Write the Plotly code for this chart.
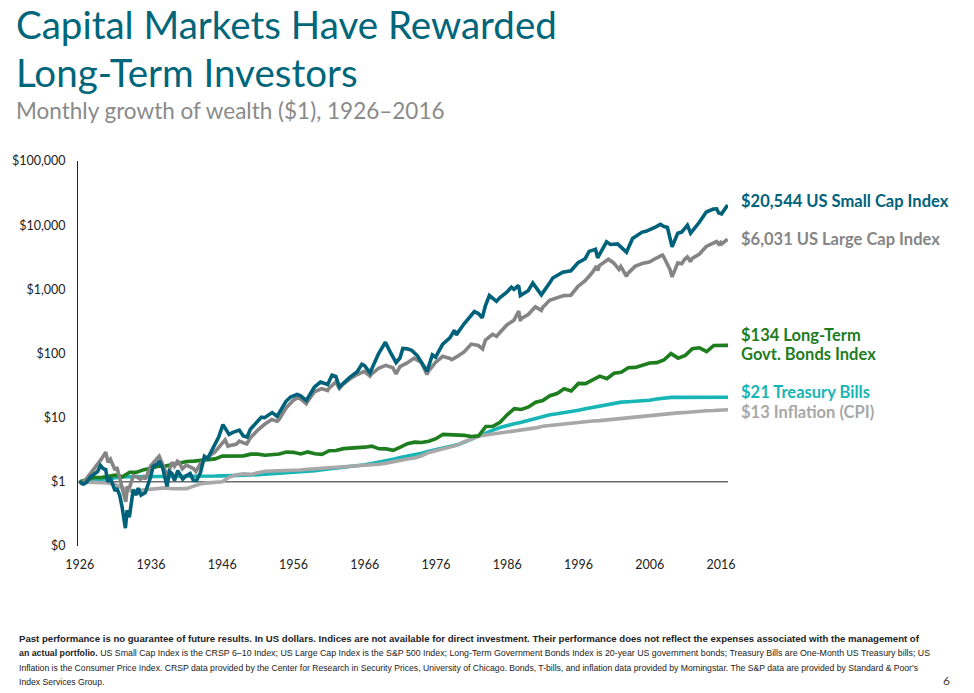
import plotly.graph_objects as go

# ---------------- DATA ----------------
# US Small Cap Index (CRSP 6-10), growth of $1 (decimal year, value)
SMALL_T = [1926.0, 1926.5, 1926.95, 1927.5, 1927.95, 1928.5, 1928.9, 1929.3, 1929.65, 1929.9,
           1930.3, 1930.95, 1931.2, 1931.6, 1931.95, 1932.4, 1932.65, 1932.95, 1933.5, 1933.95,
           1934.2, 1934.6, 1935.2, 1935.95, 1936.3, 1936.95, 1937.15, 1937.6, 1938.25, 1938.6,
           1938.95, 1939.3, 1939.75, 1940.45, 1940.95, 1941.5, 1941.95, 1942.4, 1942.95, 1943.5,
           1943.95, 1944.5, 1944.95, 1945.5, 1946.1, 1946.5, 1946.95, 1947.5, 1948.4, 1948.95,
           1949.5, 1949.95, 1950.95, 1951.5, 1951.95, 1952.5, 1953.0, 1953.7, 1954.5, 1954.95,
           1955.6, 1955.95, 1956.5, 1956.95, 1957.8, 1958.95, 1959.8, 1960.8, 1961.4, 1961.95,
           1962.45, 1962.95, 1963.95, 1964.95, 1965.6, 1965.95, 1966.75, 1967.95, 1968.9, 1969.5,
           1970.4, 1970.95, 1971.35, 1971.95, 1972.6, 1973.4, 1974.75, 1975.5, 1975.95, 1976.95,
           1977.95, 1978.6, 1978.85, 1979.95, 1980.95, 1981.4, 1981.95, 1982.5, 1982.95, 1983.5,
           1984.5, 1984.95, 1985.95, 1986.6, 1986.95, 1987.6, 1987.85, 1988.95, 1989.6, 1990.8,
           1991.95, 1992.4, 1993.8, 1994.95, 1995.95, 1996.95, 1997.5, 1998.4, 1998.7, 1999.95,
           2000.5, 2001.5, 2002.75, 2003.6, 2004.95, 2005.5, 2006.95, 2007.5, 2007.95, 2008.5,
           2009.15, 2009.95, 2010.5, 2011.3, 2011.75, 2012.95, 2013.95, 2014.95, 2015.4, 2015.7,
           2016.1, 2016.95]
SMALL_V = [1.00, 0.92, 0.98, 1.20, 1.30, 1.45, 1.80, 1.60, 1.55, 1.00,
           1.15, 0.72, 0.80, 0.62, 0.40, 0.19, 0.36, 0.28, 0.75, 0.62,
           0.80, 0.62, 0.68, 1.20, 1.75, 1.90, 2.10, 1.70, 0.85, 1.45,
           1.35, 1.05, 1.50, 1.10, 1.25, 1.35, 1.05, 1.05, 1.40, 2.50,
           2.30, 3.00, 3.60, 5.00, 7.80, 6.40, 5.50, 5.90, 6.40, 5.20,
           5.00, 6.60, 9.00, 10.2, 10.0, 11.0, 12.0, 10.5, 14.5, 18.0,
           21.0, 21.5, 23.0, 22.0, 18.5, 30.0, 36.0, 33.0, 46.0, 44.0,
           30.0, 34.0, 43.0, 52.0, 68.0, 65.0, 50.0, 100.0, 150.0, 110.0,
           72.0, 85.0, 120.0, 118.0, 112.0, 92.0, 53.0, 95.0, 88.0, 140.0,
           175.0, 230.0, 195.0, 290.0, 400.0, 450.0, 420.0, 360.0, 560.0, 800.0,
           650.0, 740.0, 900.0, 1080.0, 1000.0, 1150.0, 800.0, 950.0, 1250.0, 820.0,
           1250.0, 1500.0, 1850.0, 1950.0, 2600.0, 3000.0, 3900.0, 4200.0, 3100.0, 5500.0,
           5000.0, 5100.0, 3800.0, 6200.0, 7800.0, 8000.0, 9500.0, 10300.0, 9600.0, 9200.0,
           4600.0, 7500.0, 7800.0, 10000.0, 7500.0, 11000.0, 16000.0, 17800.0, 18000.0, 15500.0,
           15000.0, 20544.0]

# US Large Cap Index (S&P 500), growth of $1
LARGE_T = [1926.0, 1926.2, 1926.95, 1927.95, 1928.95, 1929.65, 1929.85, 1929.95, 1930.3, 1930.95,
           1931.2, 1931.95, 1932.45, 1932.7, 1932.95, 1933.5, 1933.95, 1934.5, 1934.95, 1935.2,
           1935.95, 1936.95, 1937.15, 1937.95, 1938.25, 1938.95, 1939.3, 1939.7, 1939.95, 1940.4,
           1940.95, 1941.95, 1942.3, 1942.95, 1943.95, 1944.95, 1945.95, 1946.4, 1946.8, 1946.95,
           1947.95, 1948.4, 1948.95, 1949.45, 1949.95, 1950.95, 1951.95, 1952.95, 1953.7, 1953.95,
           1954.95, 1955.95, 1956.6, 1956.95, 1957.8, 1957.95, 1958.95, 1959.95, 1960.8, 1960.95,
           1961.95, 1962.45, 1962.95, 1963.95, 1964.95, 1965.95, 1966.75, 1966.95, 1967.95, 1968.95,
           1969.95, 1970.4, 1970.95, 1971.95, 1972.95, 1973.95, 1974.75, 1974.95, 1975.95, 1976.95,
           1977.95, 1978.2, 1978.95, 1979.95, 1980.95, 1981.95, 1982.55, 1982.95, 1983.95, 1984.5,
           1984.95, 1985.95, 1986.95, 1987.62, 1987.85, 1987.95, 1988.95, 1989.95, 1990.8, 1990.95,
           1991.95, 1992.95, 1993.95, 1994.95, 1995.95, 1996.95, 1997.95, 1998.55, 1998.7, 1998.95,
           1999.95, 2000.2, 2000.95, 2001.7, 2001.95, 2002.75, 2002.95, 2003.95, 2004.95, 2005.95,
           2006.95, 2007.8, 2007.95, 2008.85, 2009.15, 2009.95, 2010.5, 2010.95, 2011.3, 2011.75,
           2011.95, 2012.95, 2013.95, 2014.95, 2015.4, 2015.7, 2015.95, 2016.1, 2016.95]
LARGE_V = [1.00, 0.95, 1.12, 1.53, 2.20, 2.90, 2.05, 2.02, 2.25, 1.52,
           1.70, 0.86, 0.49, 0.85, 0.79, 1.25, 1.21, 1.10, 1.20, 1.10,
           1.77, 2.37, 2.50, 1.54, 1.20, 2.02, 1.75, 2.10, 2.01, 1.60,
           1.82, 1.61, 1.45, 1.93, 2.43, 2.91, 3.97, 4.50, 3.60, 3.65,
           3.85, 4.30, 4.07, 3.90, 4.84, 6.36, 7.89, 9.34, 8.80, 9.25,
           14.12, 18.56, 20.5, 19.78, 16.5, 17.65, 25.30, 28.33, 26.5, 28.46,
           36.11, 28.5, 32.96, 40.36, 47.01, 52.86, 44.5, 47.54, 58.94, 65.46,
           59.89, 48.0, 62.29, 71.21, 84.72, 72.29, 47.0, 53.16, 72.94, 90.32,
           83.85, 80.0, 89.35, 105.82, 140.10, 133.24, 118.0, 161.78, 198.25, 185.0,
           210.68, 278.23, 330.19, 460.0, 320.0, 347.44, 405.16, 533.45, 470.0, 516.85,
           674.06, 725.46, 798.42, 808.97, 1113.27, 1368.68, 1825.13, 2300.0, 1950.0, 2346.93,
           2840.84, 2950.0, 2582.15, 2050.0, 2275.39, 1600.0, 1772.57, 2281.05, 2529.06, 2653.08,
           3072.15, 3420.0, 3241.06, 2050.0, 1560.0, 2582.33, 2500.0, 2971.30, 3200.0, 2700.0,
           3034.13, 3519.71, 4659.73, 5297.44, 5550.0, 5050.0, 5370.28, 5100.0, 6031.0]

# Year-end values, Dec 1925 .. Dec 2016
YEAR_END = list(range(1925, 2017))
BONDS_V = [1.00, 1.08, 1.17, 1.17, 1.21, 1.27, 1.20, 1.41, 1.41, 1.55,
           1.63, 1.75, 1.76, 1.85, 1.96, 2.08, 2.10, 2.17, 2.22, 2.28,
           2.52, 2.52, 2.46, 2.54, 2.70, 2.70, 2.60, 2.63, 2.72, 2.92,
           2.88, 2.72, 2.92, 2.74, 2.68, 3.05, 3.08, 3.29, 3.33, 3.45,
           3.47, 3.60, 3.27, 3.26, 3.10, 3.47, 3.93, 4.15, 4.10, 4.30,
           4.70, 5.50, 5.45, 5.40, 5.30, 5.10, 5.20, 7.30, 7.35, 8.50,
           11.1, 13.8, 13.4, 14.7, 17.4, 18.5, 22.0, 23.8, 28.2, 26.0,
           34.2, 33.9, 39.3, 44.4, 40.4, 49.1, 50.9, 60.0, 60.8, 66.0,
           71.1, 72.0, 79.1, 99.6, 84.7, 93.3, 118.6, 122.6, 106.9, 133.3,
           132.4, 134.0]
TBILLS_V = [1.00, 1.03, 1.07, 1.10, 1.15, 1.18, 1.19, 1.20, 1.20, 1.20,
            1.21, 1.21, 1.21, 1.21, 1.21, 1.21, 1.21, 1.22, 1.22, 1.23,
            1.24, 1.24, 1.25, 1.26, 1.28, 1.29, 1.31, 1.33, 1.36, 1.37,
            1.39, 1.43, 1.47, 1.49, 1.54, 1.58, 1.61, 1.66, 1.71, 1.77,
            1.84, 1.93, 2.01, 2.11, 2.25, 2.39, 2.49, 2.59, 2.78, 2.99,
            3.17, 3.33, 3.50, 3.77, 4.16, 4.63, 5.32, 5.88, 6.40, 7.03,
            7.57, 8.03, 8.47, 9.02, 9.77, 10.54, 11.13, 11.52, 11.90, 12.38,
            13.08, 13.77, 14.48, 15.19, 15.88, 16.83, 17.45, 17.72, 17.90, 18.11,
            18.65, 19.54, 20.40, 20.70, 20.72, 20.74, 20.75, 20.77, 20.78, 20.79,
            20.80, 20.85]
CPI_V = [1.000, 0.985, 0.964, 0.955, 0.961, 0.899, 0.813, 0.730, 0.734, 0.749,
         0.771, 0.780, 0.804, 0.782, 0.778, 0.785, 0.857, 0.935, 0.964, 0.983,
         1.005, 1.187, 1.293, 1.330, 1.305, 1.382, 1.464, 1.476, 1.486, 1.478,
         1.483, 1.527, 1.572, 1.599, 1.624, 1.647, 1.658, 1.678, 1.706, 1.726,
         1.759, 1.819, 1.874, 1.957, 2.076, 2.194, 2.267, 2.346, 2.550, 2.871,
         3.069, 3.217, 3.433, 3.727, 4.226, 4.752, 5.173, 5.369, 5.575, 5.793,
         6.010, 6.080, 6.349, 6.634, 6.932, 7.358, 7.583, 7.804, 8.012, 8.226,
         8.437, 8.716, 8.865, 9.005, 9.245, 9.561, 9.714, 9.941, 10.129, 10.468,
         10.823, 11.097, 11.552, 11.563, 11.884, 12.061, 12.422, 12.634, 12.822, 12.907,
         13.000, 13.270]

X_TICKS = [1926, 1936, 1946, 1956, 1966, 1976, 1986, 1996, 2006, 2016]
Y_TICKS = [0.1, 1, 10, 100, 1000, 10000, 100000]
Y_TICK_TEXT = ["$0", "$1", "$10", "$100", "$1,000", "$10,000", "$100,000"]
BASELINE = 1

SERIES_LABELS = [
    ("<b>$20,544 US Small Cap Index</b>", "#00627A", 201),
    ("<b>$6,031 US Large Cap Index</b>", "#858585", 239),
    ("<b>$134 Long-Term</b>", "#1E7D1E", 335),
    ("<b>Govt. Bonds Index</b>", "#1E7D1E", 354),
    ("<b>$21 Treasury Bills</b>", "#17B5B5", 392),
    ("<b>$13 Inflation (CPI)</b>", "#A8A8A8", 412),
]

FOOTNOTE = [
    "<b>Past performance is no guarantee of future results. In US dollars. Indices are not available for direct investment. Their performance does not reflect the expenses associated with the management of</b>",
    "<b>an actual portfolio.</b> US Small Cap Index is the CRSP 6\u201310 Index; US Large Cap Index is the S&P 500 Index; Long-Term Government Bonds Index is 20-year US government bonds; Treasury Bills are One-Month US Treasury bills; US",
    "Inflation is the Consumer Price Index. CRSP data provided by the Center for Research in Security Prices, University of Chicago. Bonds, T-bills, and inflation data provided by Morningstar. The S&P data are provided by Standard & Poor's",
    "Index Services Group.",
]
FOOT_SIZES = [9.6, 8.8, 8.65, 8.65]

# ---------------- LAYOUT GEOMETRY ----------------
W, H = 974, 693
L, R_EDGE, T, B_EDGE = 78, 728, 161, 546
PW, PH = R_EDGE - L, B_EDGE - T


def px_x(px):
    return (px - L) / PW


def px_y(py):
    return (B_EDGE - py) / PH


yr_x = [y + 1 for y in YEAR_END]

fig = go.Figure()
LW = 3.6
fig.add_trace(go.Scatter(x=yr_x, y=TBILLS_V, mode="lines", line=dict(color="#17B5B5", width=LW), name="T-Bills"))
fig.add_trace(go.Scatter(x=yr_x, y=CPI_V, mode="lines", line=dict(color="#A8A8A8", width=LW), name="CPI"))
fig.add_trace(go.Scatter(x=yr_x, y=BONDS_V, mode="lines", line=dict(color="#1E7D1E", width=LW), name="Bonds"))
fig.add_trace(go.Scatter(x=LARGE_T, y=LARGE_V, mode="lines", line=dict(color="#858585", width=LW), name="Large"))
fig.add_trace(go.Scatter(x=SMALL_T, y=SMALL_V, mode="lines", line=dict(color="#00627A", width=LW), name="Small"))

fig.add_shape(type="line", xref="paper", x0=0, x1=1, yref="y", y0=BASELINE, y1=BASELINE,
              line=dict(color="#222222", width=1), layer="below")

annotations = []
TITLE_FONT = "Lato, 'Open Sans', sans-serif"
annotations.append(dict(text="Capital Markets Have Rewarded", x=px_x(14), y=px_y(24), xref="paper", yref="paper",
                        xanchor="left", yanchor="middle", showarrow=False,
                        font=dict(family=TITLE_FONT, size=38.5, color="#00667A")))
annotations.append(dict(text="Long-Term Investors", x=px_x(14), y=px_y(72), xref="paper", yref="paper",
                        xanchor="left", yanchor="middle", showarrow=False,
                        font=dict(family=TITLE_FONT, size=38.5, color="#00667A")))
annotations.append(dict(text="Monthly growth of wealth ($1), 1926\u20132016", x=px_x(14), y=px_y(110), xref="paper", yref="paper",
                        xanchor="left", yanchor="middle", showarrow=False,
                        font=dict(family=TITLE_FONT, size=22.5, color="#8A8A8A")))

for txt, col, ypx in SERIES_LABELS:
    annotations.append(dict(text=txt, x=px_x(739), y=px_y(ypx), xref="paper", yref="paper",
                            xanchor="left", yanchor="middle", showarrow=False,
                            font=dict(family=TITLE_FONT, size=16.5, color=col)))

FOOT_FONT = "'Liberation Sans', Arial, sans-serif"
for i, (line, fs) in enumerate(zip(FOOTNOTE, FOOT_SIZES)):
    annotations.append(dict(text=line, x=px_x(17), y=px_y(638.5 + i * 14.5), xref="paper", yref="paper",
                            xanchor="left", yanchor="middle", showarrow=False,
                            font=dict(family=FOOT_FONT, size=fs, color="#222222")))

annotations.append(dict(text="6", x=px_x(946), y=px_y(680), xref="paper", yref="paper",
                        xanchor="center", yanchor="middle", showarrow=False,
                        font=dict(family=TITLE_FONT, size=12, color="#444444")))

fig.update_layout(
    width=W, height=H,
    margin=dict(l=L, r=W - R_EDGE, t=T, b=H - B_EDGE, pad=0),
    paper_bgcolor="white", plot_bgcolor="white",
    showlegend=False,
    annotations=annotations,
    xaxis=dict(range=[1925.75, 2017.0], tickvals=X_TICKS, showgrid=False, zeroline=False,
               showline=False, ticks="", ticklabelstandoff=9,
               tickfont=dict(family=TITLE_FONT, size=12.5, color="#222222")),
    yaxis=dict(type="log", range=[-1, 5], tickvals=Y_TICKS, ticktext=Y_TICK_TEXT,
               showgrid=False, zeroline=False, showline=True, linecolor="#222222", linewidth=1,
               ticks="", ticklabelstandoff=9,
               tickfont=dict(family=TITLE_FONT, size=12.5, color="#222222")),
)

fig.write_html("out.html", config={"displayModeBar": False},
               post_script="document.body.style.margin='0';document.body.style.overflow='hidden';")
